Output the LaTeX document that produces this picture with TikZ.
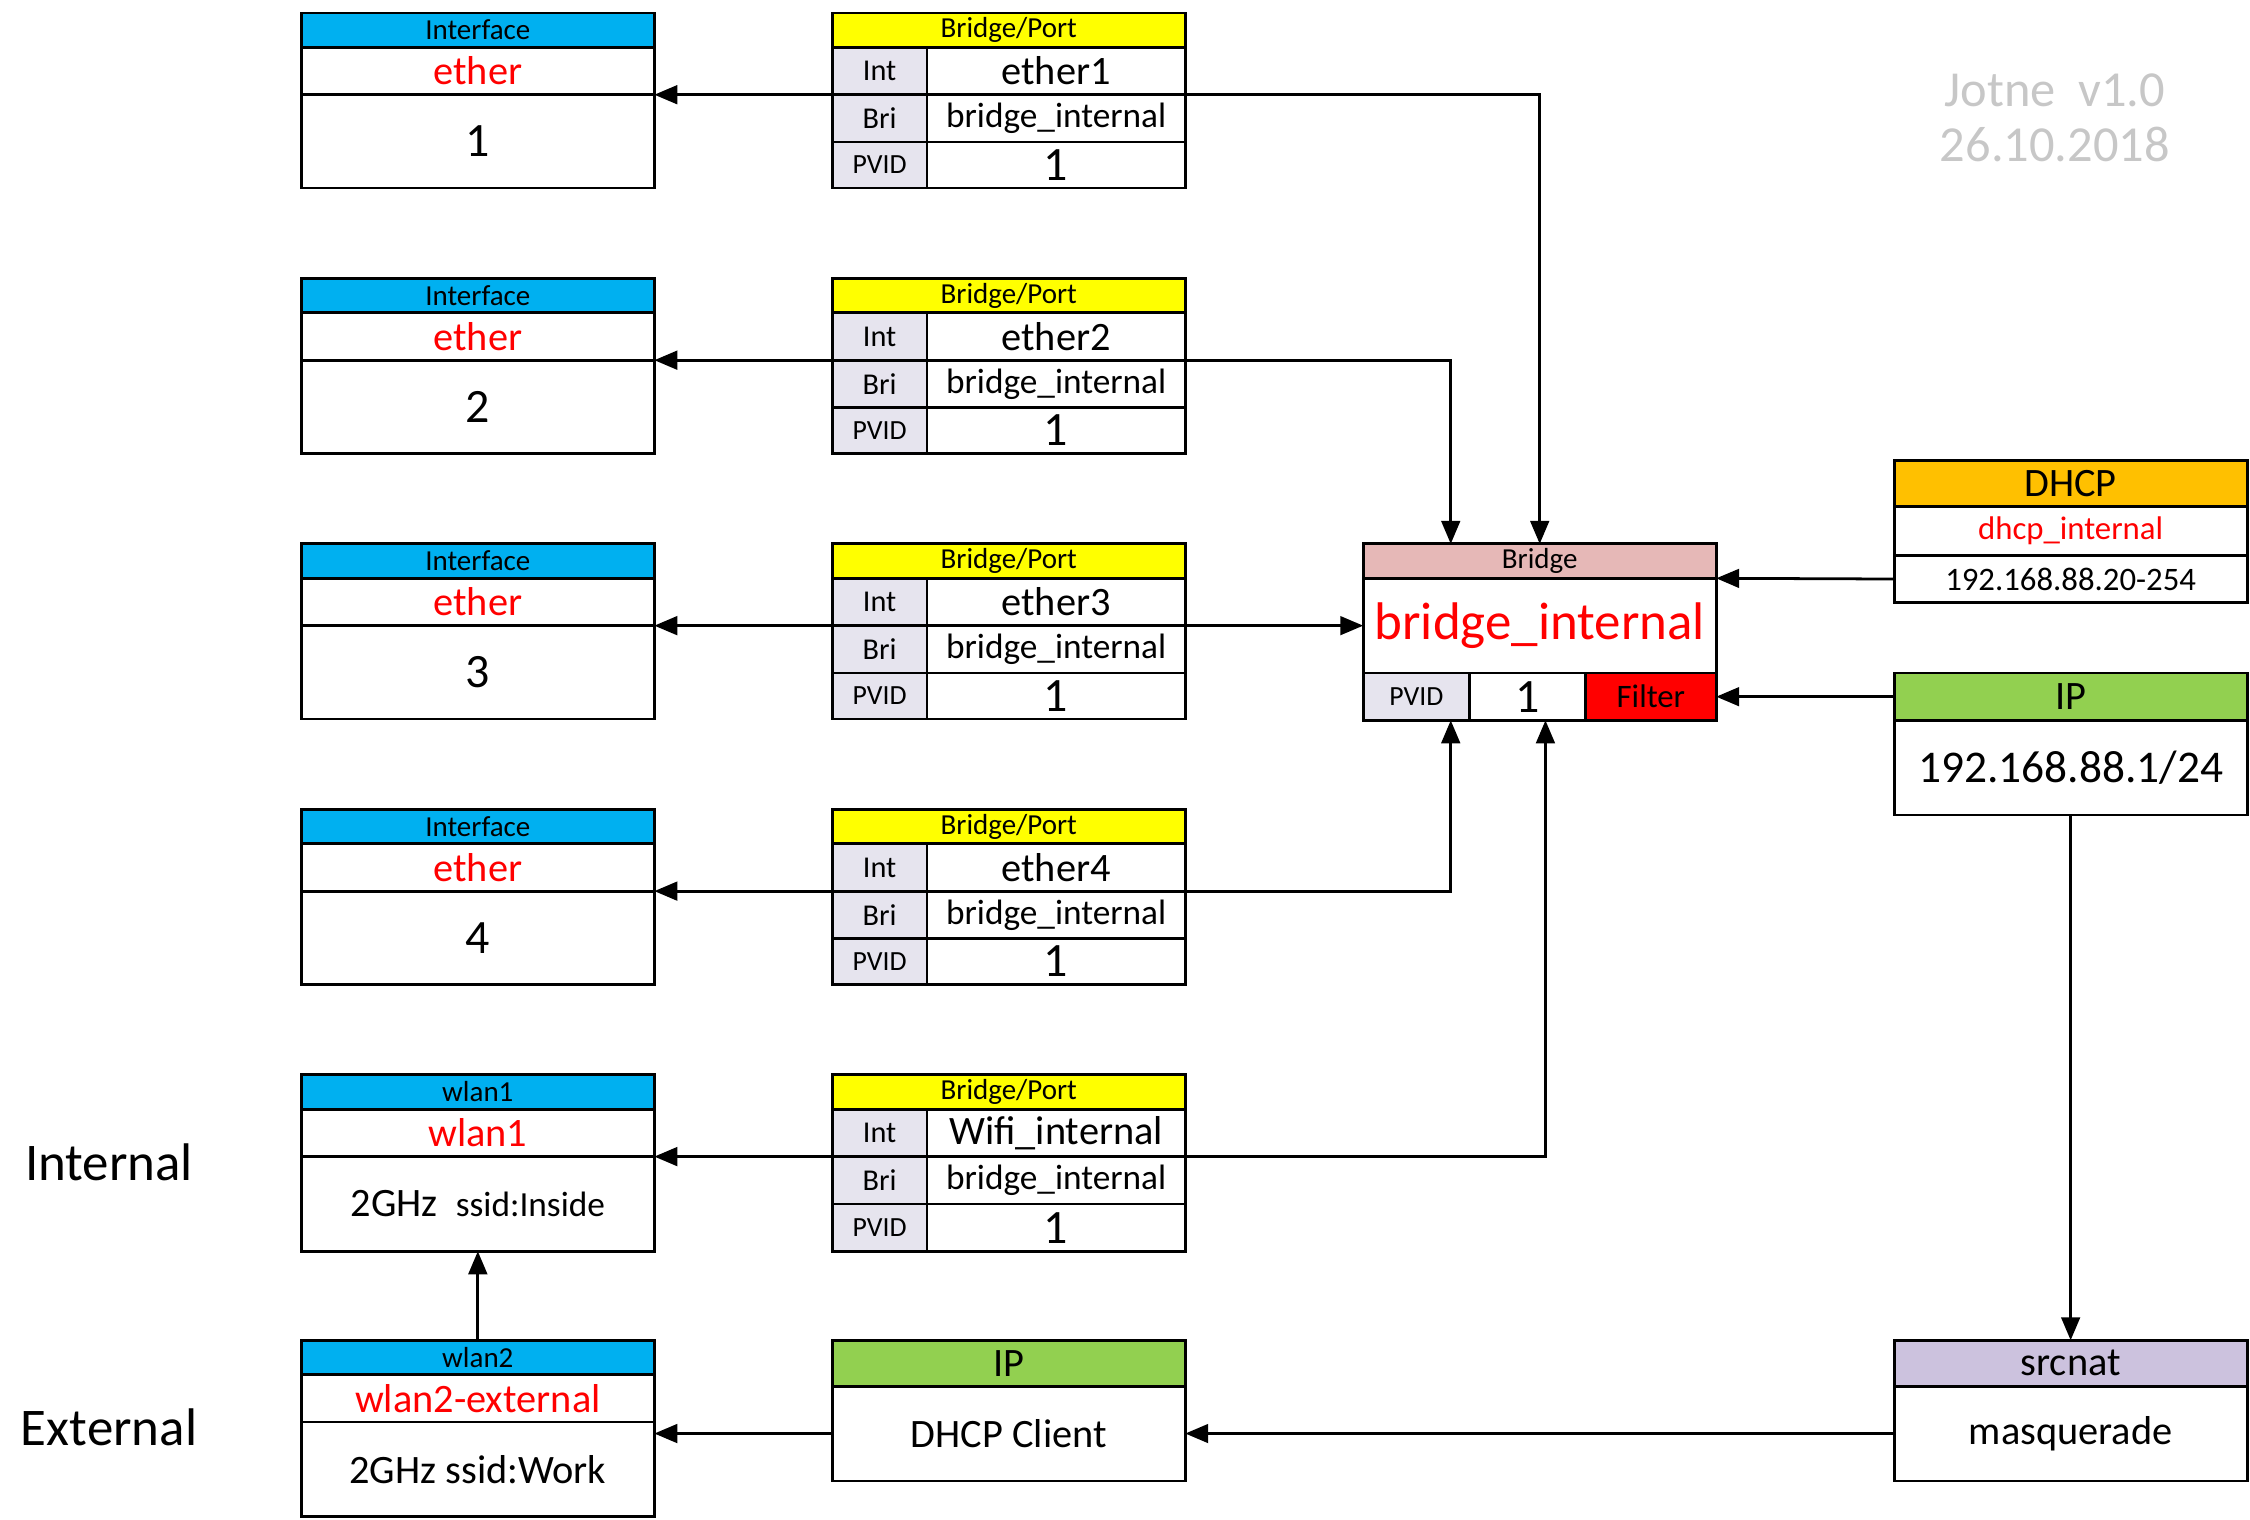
\documentclass[tikz,border=0pt]{standalone}
\usepackage{fontspec}
\setmainfont{Carlito}
\usetikzlibrary{arrows.meta,calc}
\definecolor{ifblue}{HTML}{00B0F0}
\definecolor{bpyellow}{HTML}{FFFF00}
\definecolor{brpink}{HTML}{E6B8B7}
\definecolor{cellgray}{HTML}{E6E4EE}
\definecolor{ipgreen}{HTML}{92D050}
\definecolor{dhorange}{HTML}{FFC000}
\definecolor{natlilac}{HTML}{CCC2DE}
\tikzset{
  box/.style={draw, line width=1.1pt, inner sep=0pt, outer sep=0pt, align=center},
  arr/.style={line width=1.1pt, -{Triangle[length=0.32cm,width=0.26cm]}},
  hd/.style={font=\fontsize{11.5}{12}\selectfont},
  red txt/.style={text=red}
}
\newcommand{\cell}[7]{\node[box,fill=#6,minimum width={((#4)-(#2))*0.02cm},minimum height={((#5)-(#3))*0.02cm}] (#1) at ({((#2)+(#4))/2},{((#3)+(#5))/2}) {#7};}
\newcommand{\fs}[1]{\fontsize{#1}{#1}\selectfont}

\begin{document}
\begin{tikzpicture}[x=0.02cm,y=-0.02cm]
\useasboundingbox (0,0) rectangle (1568,1059);

% interfaces and bridge ports
\foreach \n/\y in {1/9,2/194,3/379,4/564}{
  \cell{if\n head}{210}{\y}{456}{\y+24}{ifblue}{\fs{11.5}Interface}
  \cell{if\n name}{210}{\y+24}{456}{\y+57}{white}{\fs{16}\color{red}ether}
  \cell{if\n body}{210}{\y+57}{456}{\y+122}{white}{\fs{19}\n}
  \cell{p\n head}{580}{\y}{826}{\y+24}{bpyellow}{\fs{11.5}Bridge/Port}
  \cell{p\n intl}{580}{\y+24}{646}{\y+57}{cellgray}{\fs{12}Int}
  \cell{p\n int}{646}{\y+24}{826}{\y+57}{white}{\fs{16}ether\n}
  \cell{p\n bril}{580}{\y+57}{646}{\y+90}{cellgray}{\fs{12}Bri}
  \cell{p\n bri}{646}{\y+57}{826}{\y+90}{white}{\fs{14}bridge\_internal}
  \cell{p\n pvl}{580}{\y+90}{646}{\y+122}{cellgray}{\fs{11}PVID}
  \cell{p\n pv}{646}{\y+90}{826}{\y+122}{white}{\fs{19}1}
  \draw[arr] (p\n bril.north west) -- (if\n body.east |- p\n bril.north west);
}

% wlan1 / port 5
\cell{wl1head}{210}{749}{456}{773}{ifblue}{\fs{11.5}wlan1}
\cell{wl1name}{210}{773}{456}{806}{white}{\fs{16}\color{red}wlan1}
\cell{wl1body}{210}{806}{456}{872}{white}{\fs{16}2GHz\ \ {\fs{14}ssid:Inside}}
\cell{p5head}{580}{749}{826}{773}{bpyellow}{\fs{11.5}Bridge/Port}
\cell{p5intl}{580}{773}{646}{806}{cellgray}{\fs{12}Int}
\cell{p5int}{646}{773}{826}{806}{white}{\fs{16}Wifi\_internal}
\cell{p5bril}{580}{806}{646}{839}{cellgray}{\fs{12}Bri}
\cell{p5bri}{646}{806}{826}{839}{white}{\fs{14}bridge\_internal}
\cell{p5pvl}{580}{839}{646}{872}{cellgray}{\fs{11}PVID}
\cell{p5pv}{646}{839}{826}{872}{white}{\fs{19}1}
\draw[arr] (p5bril.north west) -- (wl1body.east |- p5bril.north west);

% wlan2
\cell{wl2head}{210}{934}{456}{958}{ifblue}{\fs{11.5}wlan2}
\cell{wl2name}{210}{958}{456}{991}{white}{\fs{16}\color{red}wlan2-external}
\cell{wl2body}{210}{991}{456}{1057}{white}{\fs{16}2GHz ssid:Work}
\draw[arr] (wl2head.north) -- (wl1body.south);

% dhcp client
\cell{iphead}{580}{934}{826}{966}{ipgreen}{\fs{16}IP}
\cell{ipbody}{580}{966}{826}{1032}{white}{\fs{16}DHCP Client}
\draw[arr] (ipbody.west) -- (wl2name.east |- ipbody.west);

% bridge
\cell{brhead}{950}{379}{1196}{403}{brpink}{\fs{11.5}Bridge}
\cell{brname}{950}{403}{1196}{469}{white}{\fs{21}\color{red}bridge\_internal}
\cell{brpvl}{950}{469}{1024}{502}{cellgray}{\fs{11}PVID}
\cell{brpv}{1024}{469}{1105}{502}{white}{\fs{19}1}
\cell{brfilt}{1105}{469}{1196}{502}{red}{\fs{13}Filter}

% dhcp server, ip, nat
\cell{dhhead}{1320}{321}{1566}{353}{dhorange}{\fs{16}DHCP}
\cell{dhname}{1320}{353}{1566}{387}{white}{\fs{13}\color{red}dhcp\_internal}
\cell{dhpool}{1320}{387}{1566}{420}{white}{\fs{13}192.168.88.20-254}
\cell{ip2head}{1320}{469}{1566}{502}{ipgreen}{\fs{16}IP}
\cell{ip2body}{1320}{502}{1566}{568}{white}{\fs{18}192.168.88.1/24}
\cell{nathead}{1320}{934}{1566}{966}{natlilac}{\fs{16}srcnat}
\cell{natbody}{1320}{966}{1566}{1032}{white}{\fs{16}masquerade}

% port to bridge links
\coordinate (brin2) at (1011,379);
\coordinate (brin4) at (1011,502);
\coordinate (brin5) at (1077,502);
\draw[arr] (p1bri.north east) -| (brhead.north);
\draw[arr] (p2bri.north east) -| (brin2);
\draw[arr] (p3bri.north east) -- (brname.west |- p3bri.north east);
\draw[arr] (p4bri.north east) -| (brin4);
\draw[arr] (p5bri.north east) -| (brin5);
\draw[arr] (dhpool.west) -- (brname.north east);
\draw[arr] (ip2head.west) -- (brfilt.east);
\draw[arr] (ip2body.south) -- (nathead.north);
\draw[arr] (natbody.west) -- (ipbody.east);

% side labels
\node[font=\fs{21}] (lint) at (76,810) {Internal};
\node[font=\fs{21}] (lext) at (76,995) {External};
\node[text=black!22,font=\fs{20},align=center] (stamp) at (1432,82) {Jotne\ \ v1.0\\[2pt]26.10.2018};
\end{tikzpicture}
\end{document}
